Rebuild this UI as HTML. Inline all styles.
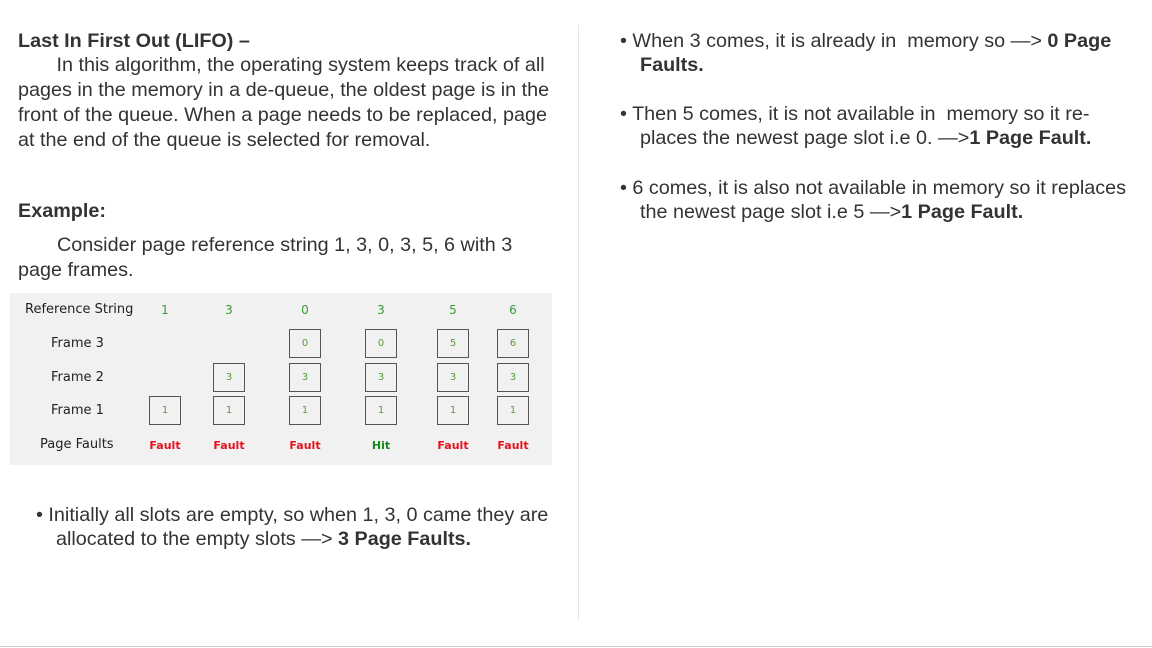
<!DOCTYPE html>
<html><head><style>
body{margin:0;width:1152px;height:648px;background:#fff;position:relative;overflow:hidden;font-family:"Liberation Sans",sans-serif;color:#333}
.t{position:absolute;font-size:19.8px;line-height:25px;white-space:nowrap}
.b{font-weight:bold}
#tbl{position:absolute;left:10px;top:293px;width:542px;height:172px;background:#f1f1f1;font-family:"DejaVu Sans",sans-serif}
.lab{position:absolute;font-size:13px;color:#222}
.g{position:absolute;font-size:12px;color:#3a9a3a;transform:translateX(-50%)}
.box{position:absolute;width:32px;height:29px;border:1.5px solid #555;box-sizing:border-box;font-size:10px;color:#5a9a3a;display:flex;align-items:center;justify-content:center;transform:translateX(-50%)}
.f{position:absolute;font-size:11px;font-weight:bold;color:#e8101a;transform:translateX(-50%)}
</style></head><body>
<div style="position:absolute;left:578px;top:25px;width:1px;height:595px;background:#e4e4e4"></div>
<div style="position:absolute;left:0;top:646px;width:1152px;height:1px;background:#ccc"></div>
<div class="t b" style="left:18px;top:29px">Last In First Out (LIFO) –</div>
<div class="t" style="left:18px;top:53px">&nbsp;&nbsp;&nbsp;&nbsp;&nbsp;&nbsp;&nbsp;In this algorithm, the operating system keeps track of all<br>pages in the memory in a de-queue, the oldest page is in the<br>front of the queue. When a page needs to be replaced, page<br>at the end of the queue is selected for removal.</div>
<div class="t b" style="left:18px;top:199px">Example:</div>
<div class="t" style="left:57px;top:233px">Consider page reference string 1, 3, 0, 3, 5, 6 with 3</div>
<div class="t" style="left:18px;top:258px">page frames.</div>
<div id="tbl"></div>
<div class="t" style="left:36px;top:503px">• Initially all slots are empty, so when 1, 3, 0 came they are</div>
<div class="t" style="left:56px;top:527px">allocated to the empty slots —&gt; <b>3 Page Faults.</b></div>
<div class="t" style="left:620px;top:29px">• When 3 comes, it is already in &nbsp;memory so —&gt; <b>0 Page</b></div>
<div class="t b" style="left:640px;top:53px">Faults.</div>
<div class="t" style="left:620px;top:102px">• Then 5 comes, it is not available in &nbsp;memory so it re-</div>
<div class="t" style="left:640px;top:126px">places the newest page slot i.e 0. —&gt;<b>1 Page Fault.</b></div>
<div class="t" style="left:620px;top:176px">• 6 comes, it is also not available in memory so it replaces</div>
<div class="t" style="left:640px;top:200px">the newest page slot i.e 5 —&gt;<b>1 Page Fault.</b></div>
<script>
const refs=[1,3,0,3,5,6];
const frame1=[1,1,1,1,1,1];
const frame2=[null,3,3,3,3,3];
const frame3=[null,null,0,0,5,6];
const results=['Fault','Fault','Fault','Hit','Fault','Fault'];
const colX=[155,219,295,371,443,503];
const t=document.getElementById('tbl');
function add(cls,txt,x,y,name){const e=document.createElement('div');e.className=cls;e.textContent=txt;e.style.left=x+'px';e.style.top=y+'px';


t.appendChild(e);return e;}
add('lab','Reference String',15,9,'row-label-reference');
add('lab','Frame 3',41,43,'row-label-frame3');
add('lab','Frame 2',41,77,'row-label-frame2');
add('lab','Frame 1',41,110,'row-label-frame1');
add('lab','Page Faults',30,144,'row-label-faults');
refs.forEach((r,i)=>{
 add('g',r,colX[i],10,'ref-'+i);
 [[frame3,36],[frame2,70],[frame1,103]].forEach(([a,y],k)=>{if(a[i]!==null)add('box',a[i],colX[i],y,'frame-box');});
 const f=add('f',results[i],colX[i],146,'result-'+i);
 if(results[i]==='Hit')f.style.color='#1a8a1a';
});
</script>
</body></html>
